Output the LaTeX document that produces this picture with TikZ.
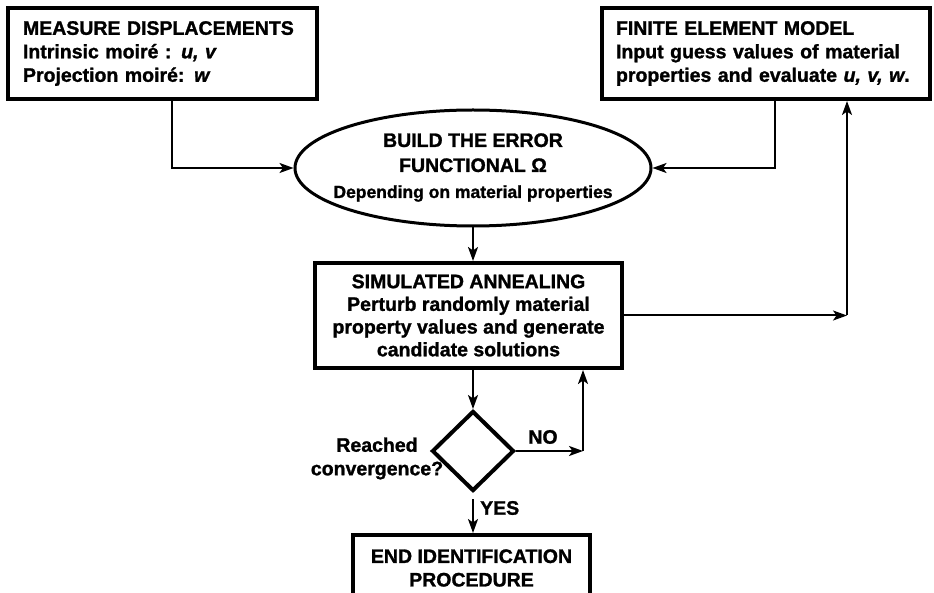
\documentclass[tikz,border=0pt]{standalone}
\usepackage{fontspec}
\setmainfont{Liberation Sans}[
  BoldFeatures={FakeBold=1.3},
  BoldItalicFeatures={FakeBold=1.3}]
\usetikzlibrary{shapes.geometric,arrows.meta}
\begin{document}
\begin{tikzpicture}[x=1pt,y=-1pt,
  every node/.style={font=\bfseries\fontsize{19.5}{23.5}\selectfont},
  boxnode/.style={draw,rectangle,line width=4pt,inner sep=0pt},
  arr/.style={line width=2pt,-{Stealth[length=14pt,width=10pt,inset=3.5pt]}},
  ]
\useasboundingbox (0,0) rectangle (934,593);
\clip (0,0) rectangle (934,593);

% input boxes
\node[boxnode,minimum width=309pt,minimum height=91pt,text width=279pt,align=left]
  (m) at (162.5,53.5)
  {MEASURE DISPLACEMENTS\\Intrinsic moiré : \textit{u, v}\\Projection moiré: \textit{w}};
\node[boxnode,minimum width=328pt,minimum height=91pt,text width=300pt,align=left]
  (f) at (766,53.5)
  {FINITE ELEMENT MODEL\\Input guess values of material\\properties and evaluate \textit{u, v, w}.};

% error functional
\node[draw,ellipse,line width=3pt,minimum width=356pt,minimum height=116pt,inner sep=0pt]
  (e) at (473,168) {};
\node[align=center,font=\bfseries\fontsize{19.5}{25}\selectfont] (et) at (473,167.5)
  {BUILD THE ERROR\\FUNCTIONAL Ω\\[1pt]{\fontsize{17.5}{20}\selectfont Depending on material properties}};

% optimisation loop
\node[boxnode,minimum width=307pt,minimum height=105pt,align=center,
  font=\bfseries\fontsize{19.5}{22.7}\selectfont]
  (sa) at (468.5,315.5)
  {SIMULATED ANNEALING\\Perturb randomly material\\property values and generate\\candidate solutions};
\node[draw,diamond,line width=4pt,minimum width=82pt,minimum height=80pt,inner sep=0pt]
  (d) at (473,451) {};
\node[boxnode,minimum width=237pt,minimum height=66pt,align=center]
  (end) at (471.5,568) {END IDENTIFICATION\\PROCEDURE};

% labels
\node[align=center] (lq) at (377,458.5) {Reached\\convergence?};
\node (lno) at (543,437) {NO};
\node[anchor=west,inner sep=0pt] (lyes) at (480,508) {YES};

% connectors
\coordinate (c1) at (172,168);
\coordinate (c2) at (775,168);
\coordinate (k) at (847,315.5);
\coordinate (n) at (583,451);
\draw[arr] (m.south -| c1) |- (e.west);
\draw[arr] (f.south -| c2) |- (e.east);
\draw[arr] (e.south) -- (e.south |- sa.north);
\draw[arr] (sa.east) -- (k);
\draw[arr] (k) -- (k |- f.south);
\draw[arr] (sa.south -| d.north) -- (d.north);
\draw[arr] (d.east) -- (n);
\draw[arr] (n) -- (n |- sa.south);
\draw[arr] ([yshift=-6pt]d.south) -- (d.south |- end.north);
\end{tikzpicture}
\end{document}
